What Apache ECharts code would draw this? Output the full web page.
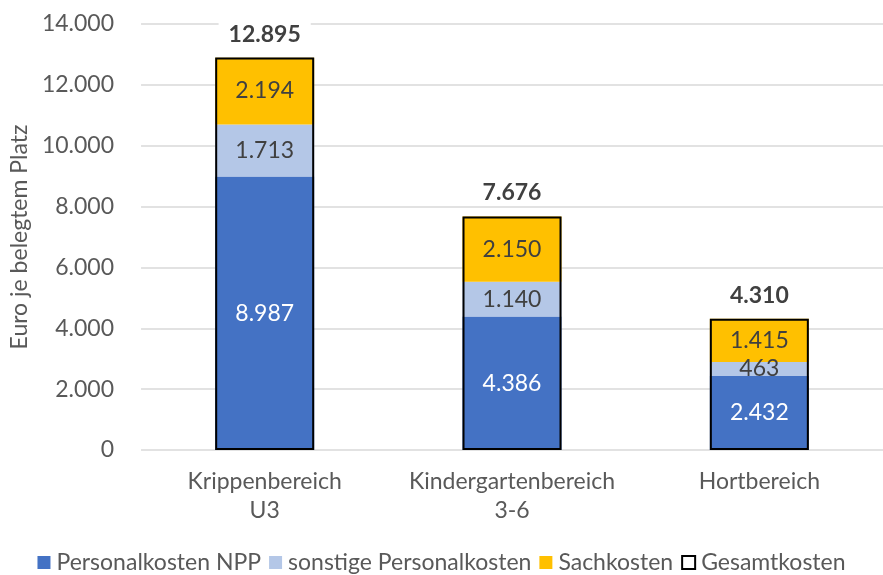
<!DOCTYPE html>
<html><head><meta charset="utf-8">
<script src="https://cdn.jsdelivr.net/npm/echarts@6/dist/echarts.min.js"></script>
<style>html,body{margin:0;padding:0;background:#fff}#c{width:883px;height:575px}</style>
</head><body><div id="c"></div>
<script>
const categories = ['Krippenbereich\nU3', 'Kindergartenbereich\n3-6', 'Hortbereich'];
const personalNPP = [8987, 4386, 2432];
const sonstigePersonal = [1713, 1140, 463];
const sachkosten = [2194, 2150, 1415];
const gesamtkosten = [12895, 7676, 4310];
const yTicks = [0, 2000, 4000, 6000, 8000, 10000, 12000, 14000];

const FONT = 'Lato';
const FS = 23;
const fmt = v => String(v).replace(/\B(?=(\d{3})+(?!\d))/g, '.');
const chart = echarts.init(document.getElementById('c'), null, {renderer: 'canvas'});
const segLabel = (color) => ({show: true, position: 'inside', color, fontFamily: FONT, fontSize: FS, formatter: p => fmt(p.value)});
chart.setOption({
  animation: false,
  textStyle: {fontFamily: FONT},
  grid: {left: 139, right: 0, top: 24, bottom: 125},
  legend: {
    top: 546, left: 'center', itemWidth: 13, itemHeight: 13, itemGap: 8,
    textStyle: {fontFamily: FONT, fontSize: FS, color: '#595959', padding: [0, 0, 0, 1]},
    data: [
      {name: 'Personalkosten NPP', icon: 'rect'},
      {name: 'sonstige Personalkosten', icon: 'rect'},
      {name: 'Sachkosten', icon: 'rect'},
      {name: 'Gesamtkosten', icon: 'rect', itemStyle: {color: '#fff', borderColor: '#000', borderWidth: 2}}
    ]
  },
  xAxis: {
    type: 'category', data: categories,
    axisLine: {show: false}, axisTick: {show: false},
    axisLabel: {interval: 0, color: '#595959', fontFamily: FONT, fontSize: FS, margin: 17, lineHeight: 29}
  },
  yAxis: {
    type: 'value', min: 0, max: 14000, interval: 2000,
    name: 'Euro je belegtem Platz', nameLocation: 'middle', nameGap: 108,
    nameTextStyle: {color: '#595959', fontFamily: FONT, fontSize: FS},
    axisLine: {show: false}, axisTick: {show: false},
    splitLine: {lineStyle: {color: '#d9d9d9', width: 1.5}},
    axisLabel: {color: '#595959', fontFamily: FONT, fontSize: FS, margin: 27,
      formatter: v => yTicks.includes(v) ? fmt(v) : ''}
  },
  series: [
    {name: 'Personalkosten NPP', type: 'bar', stack: 's', barWidth: 99, data: personalNPP,
      itemStyle: {color: '#4472C4'}, label: segLabel('#ffffff')},
    {name: 'sonstige Personalkosten', type: 'bar', stack: 's', barWidth: 99, data: sonstigePersonal,
      itemStyle: {color: '#B4C7E7'}, label: segLabel('#404040')},
    {name: 'Sachkosten', type: 'bar', stack: 's', barWidth: 99, data: sachkosten,
      itemStyle: {color: '#FFC000'}, label: segLabel('#404040')},
    {name: 'Gesamtkosten', type: 'bar', barWidth: 99, barGap: '-100%', data: gesamtkosten, z: 5,
      itemStyle: {color: 'rgba(0,0,0,0)', borderColor: '#000', borderWidth: 2},
      label: {show: true, position: 'top', distance: 12, color: '#404040', fontFamily: FONT, fontSize: FS,
        fontWeight: 'bold', backgroundColor: '#fff', padding: [0, 10], formatter: p => fmt(p.value)}}
  ]
});
</script></body></html>
